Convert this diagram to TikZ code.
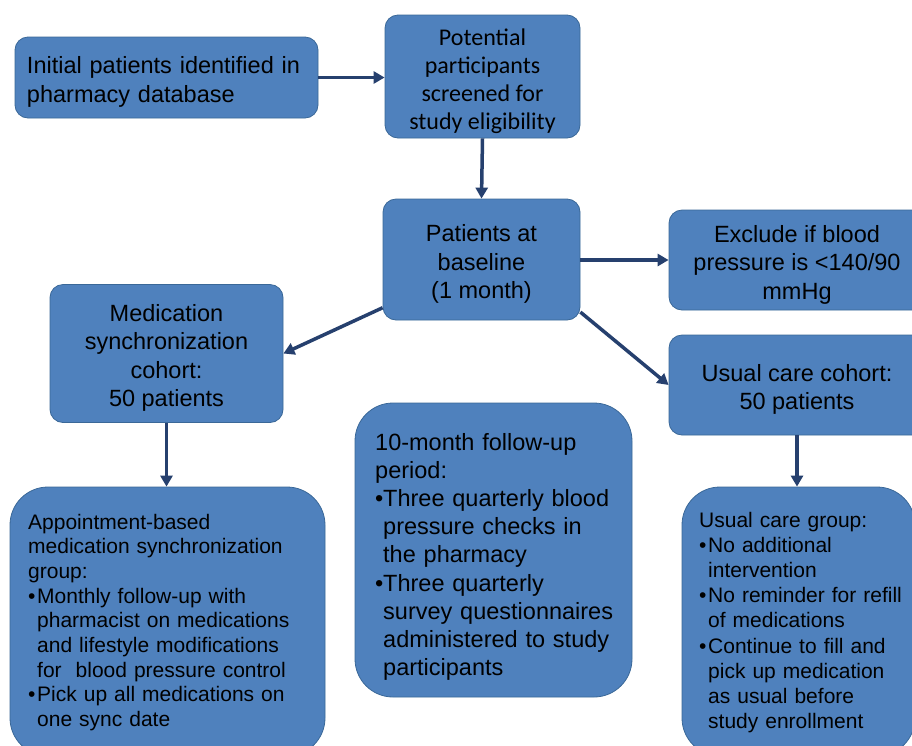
\documentclass[tikz,border=0pt]{standalone}
\usepackage{fontspec}
\setmainfont{Liberation Sans}
\newfontfamily\calib{Carlito}
\usetikzlibrary{arrows.meta}
\definecolor{boxfill}{HTML}{4F81BD}
\definecolor{boxline}{HTML}{3A6898}
\definecolor{arr}{HTML}{26406E}
\newcommand\bulmark[1]{\makebox[#1][l]{•}}
\newcommand\hangin[1]{\hspace*{#1}}
\newcommand\dnstrut[1]{\rule{0pt}{#1}}
\begin{document}
\begin{tikzpicture}[x=1pt,y=-1pt,
 box/.style={draw=boxline, line width=0.8pt, fill=boxfill, rounded corners=13pt, inner sep=0pt, align=center, font=\fontsize{23.5}{28.5}\selectfont},
 bigbox/.style={draw=boxline, line width=0.8pt, fill=boxfill, rounded corners=38pt, inner sep=0pt},
 txt/.style={inner sep=0pt, align=left, anchor=base west},
 conn/.style={draw=arr, line width=3.5pt, -{Triangle[length=11pt,width=12pt]}}]
\useasboundingbox (0,0) rectangle (912,745);
\clip (0,0) rectangle (912,745);
\fill[white] (0,0) rectangle (912,745);

\node[box, minimum width=303pt, minimum height=81pt, text width=279pt, align=left] (init) at (166.5,77.5)
  {\dnstrut{26pt}Initial patients identified in\\pharmacy database};
\node[box, minimum width=195pt, minimum height=123pt, font=\calib\fontsize{24}{28}\selectfont] (pot) at (482.5,76.5)
  {\dnstrut{26pt}Potential\\participants\\screened for\\study eligibility};
\node[box, minimum width=197pt, minimum height=121pt] (base) at (481.5,259.5)
  {\dnstrut{26pt}Patients at\\baseline\\(1 month)};
\node[box, minimum width=256pt, minimum height=100pt] (excl) at (797,260)
  {\dnstrut{26pt}Exclude if blood\\pressure is <140/90\\mmHg};
\node[box, minimum width=233pt, minimum height=138pt] (med) at (166.5,353.5)
  {\dnstrut{26pt}Medication\\synchronization\\cohort:\\50 patients};
\node[box, minimum width=256pt, minimum height=100pt] (usual) at (797,385)
  {\dnstrut{26pt}Usual care cohort:\\50 patients};

\node[bigbox, minimum width=315pt, minimum height=269pt] (appt) at (167.5,621.5) {};
\node[bigbox, minimum width=277pt, minimum height=294pt] (tenm) at (493.5,550) {};
\node[bigbox, minimum width=233pt, minimum height=269pt] (ucg) at (798.5,621.5) {};

\node[txt, font=\fontsize{21}{24.7}\selectfont, text width=295pt] (appttxt) at (28,529)
  {Appointment-based\\
   medication synchronization\\
   group:\\
   \bulmark{9pt}Monthly follow-up with\\
   \hangin{9pt}pharmacist on medications\\
   \hangin{9pt}and lifestyle modifications\\
   \hangin{9pt}for\ \ blood pressure control\\
   \bulmark{9pt}Pick up all medications on\\
   \hangin{9pt}one sync date};
\node[txt, font=\fontsize{23.5}{28.2}\selectfont, text width=255pt] (tenmtxt) at (375,450)
  {10-month follow-up\\
   period:\\
   \bulmark{8pt}Three quarterly blood\\
   \hangin{8pt}pressure checks in\\
   \hangin{8pt}the pharmacy\\
   \bulmark{8pt}Three quarterly\\
   \hangin{8pt}survey questionnaires\\
   \hangin{8pt}administered to study\\
   \hangin{8pt}participants};
\node[txt, font=\fontsize{21}{25.2}\selectfont, text width=210pt] (ucgtxt) at (699,527)
  {Usual care group:\\
   \bulmark{9pt}No additional\\
   \hangin{9pt}intervention\\
   \bulmark{9pt}No reminder for refill\\
   \hangin{9pt}of medications\\
   \bulmark{9pt}Continue to fill and\\
   \hangin{9pt}pick up medication\\
   \hangin{9pt}as usual before\\
   \hangin{9pt}study enrollment};

\draw[conn] (init.east) -- (init.east -| pot.west);
\draw[conn] (pot.south) -- (base.north);
\draw[conn] (base.east |- excl.west) -- (excl.west);
\draw[conn] (base.206) -- (med.east);
\draw[conn] (base.332) -- (usual.west);
\draw[conn] (med.south) -- (med.south |- appt.north);
\draw[conn] (usual.south) -- (usual.south |- ucg.north);
\end{tikzpicture}
\end{document}
